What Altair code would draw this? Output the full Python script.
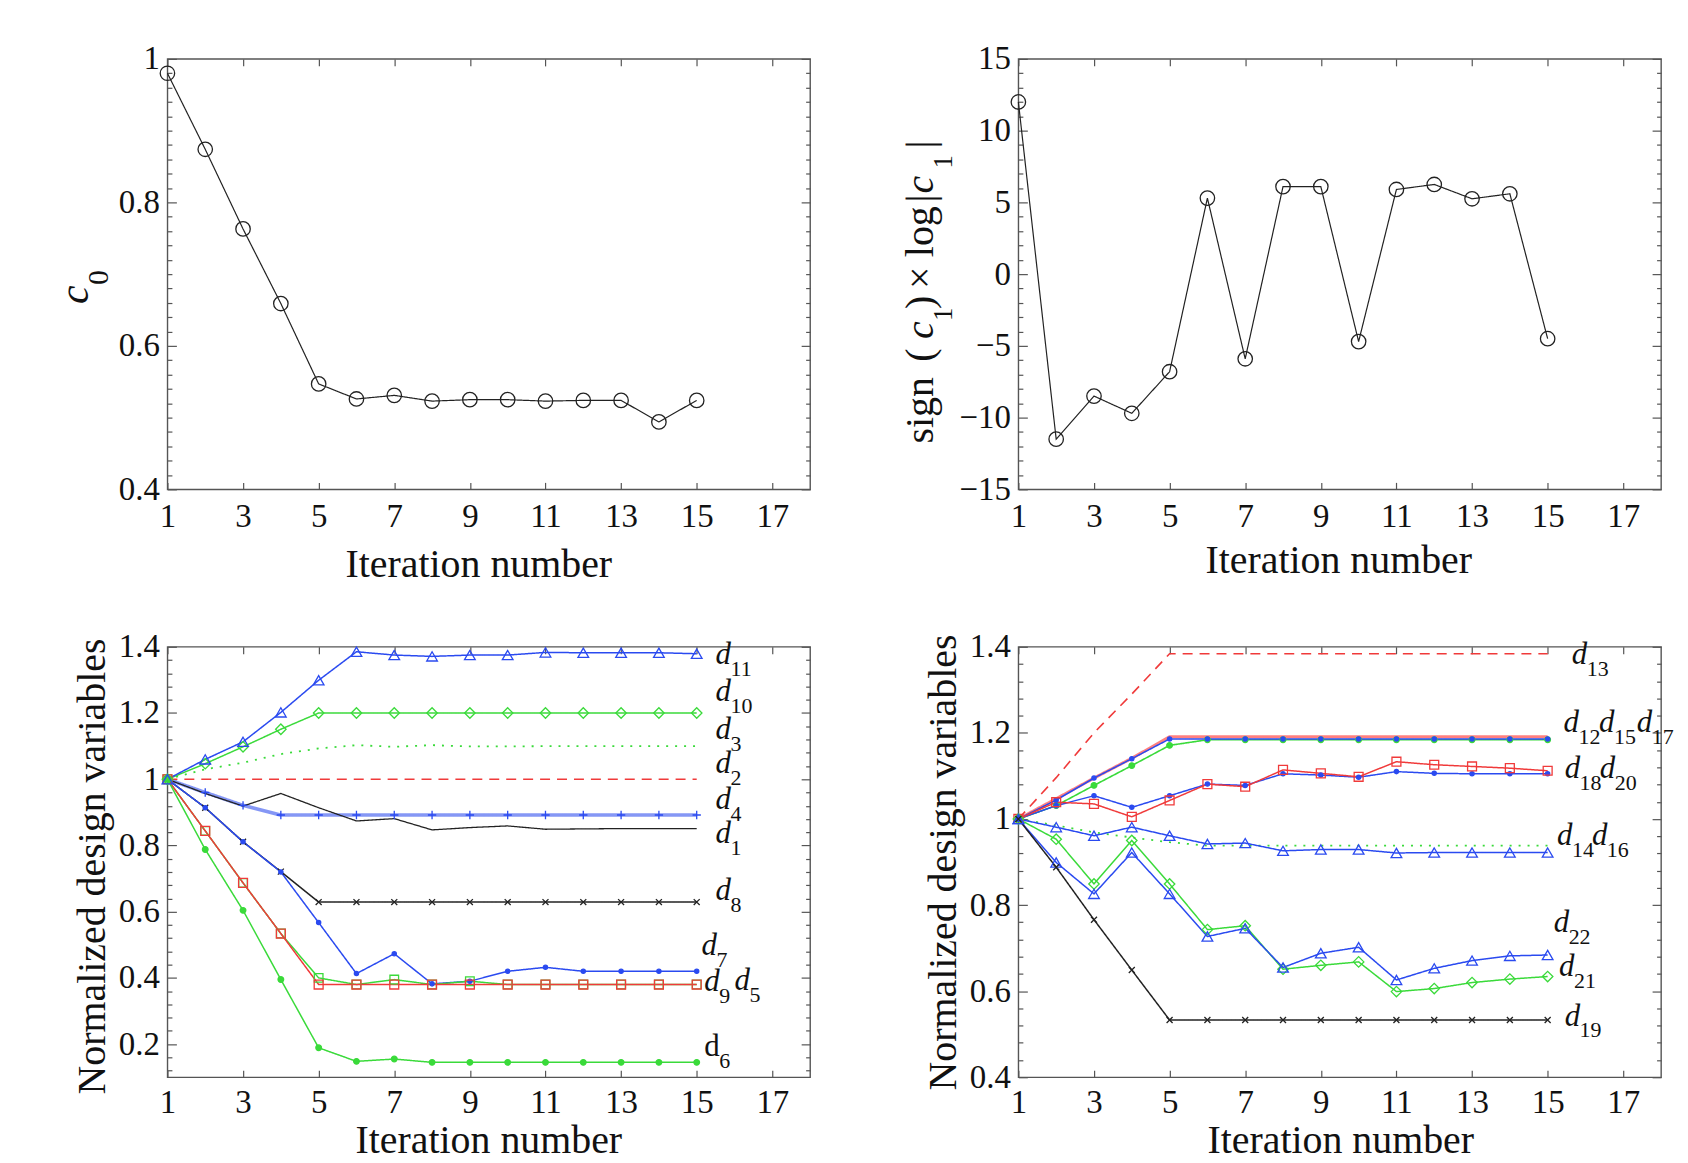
import altair as alt
import pandas as pd

SERIF = "Liberation Serif"
W, H = 645, 432

# ---------------- data ----------------
ITER = [1, 2, 3, 4, 5, 6, 7, 8, 9, 10, 11, 12, 13, 14, 15]
X_TICKS = [1, 3, 5, 7, 9, 11, 13, 15, 17]

# top-left: c0
C0 = [0.980, 0.874, 0.763, 0.659, 0.547, 0.526, 0.531, 0.523, 0.525, 0.525, 0.523, 0.524, 0.524, 0.494, 0.524]
# top-right: sign(c1) x log|c1|
C1 = [12.0, -11.5, -8.5, -9.7, -6.8, 5.3, -5.9, 6.1, 6.1, -4.7, 5.9, 6.25, 5.25, 5.6, -4.5]

# bottom-left: normalized design variables d1..d11
D1 = [1.0, 0.957, 0.919, 0.957, 0.914, 0.874, 0.881, 0.847, 0.854, 0.859, 0.849, 0.850, 0.851, 0.851, 0.851]
D2 = [1.0, 1.0, 1.0, 1.0, 1.0, 1.0, 1.0, 1.0, 1.0, 1.0, 1.0, 1.0, 1.0, 1.0, 1.0]
D3 = [1.0, 1.030, 1.050, 1.076, 1.093, 1.103, 1.098, 1.103, 1.099, 1.099, 1.100, 1.100, 1.100, 1.100, 1.100]
D4 = [1.0, 0.960, 0.921, 0.892, 0.892, 0.892, 0.892, 0.892, 0.892, 0.892, 0.892, 0.892, 0.892, 0.892, 0.892]
D5 = [1.0, 0.844, 0.687, 0.534, 0.400, 0.380, 0.395, 0.380, 0.390, 0.380, 0.380, 0.380, 0.380, 0.380, 0.380]
D6 = [1.0, 0.788, 0.604, 0.395, 0.189, 0.148, 0.155, 0.145, 0.145, 0.145, 0.145, 0.145, 0.145, 0.145, 0.145]
D7 = [1.0, 0.914, 0.811, 0.720, 0.567, 0.413, 0.473, 0.382, 0.390, 0.420, 0.432, 0.420, 0.420, 0.420, 0.420]
D8 = [1.0, 0.914, 0.811, 0.721, 0.629, 0.629, 0.629, 0.629, 0.629, 0.629, 0.629, 0.629, 0.629, 0.629, 0.629]
D9 = [1.0, 0.844, 0.687, 0.534, 0.380, 0.380, 0.380, 0.380, 0.380, 0.380, 0.380, 0.380, 0.380, 0.380, 0.380]
D10 = [1.0, 1.047, 1.098, 1.151, 1.200, 1.200, 1.200, 1.200, 1.200, 1.200, 1.200, 1.200, 1.200, 1.200, 1.200]
D11 = [1.0, 1.060, 1.113, 1.202, 1.299, 1.385, 1.375, 1.371, 1.375, 1.375, 1.383, 1.382, 1.382, 1.382, 1.379]

# bottom-right: d12..d22
D12 = [1.0, 1.047, 1.095, 1.141, 1.191, 1.191, 1.191, 1.191, 1.191, 1.191, 1.191, 1.191, 1.191, 1.191, 1.191]
D13 = [1.0, 1.096, 1.200, 1.290, 1.384, 1.384, 1.384, 1.384, 1.384, 1.384, 1.384, 1.384, 1.384, 1.384, 1.384]
D14 = [1.0, 0.981, 0.961, 0.981, 0.961, 0.942, 0.944, 0.926, 0.929, 0.929, 0.921, 0.922, 0.922, 0.922, 0.922]
D15 = [1.0, 1.044, 1.095, 1.140, 1.186, 1.186, 1.186, 1.186, 1.186, 1.186, 1.186, 1.186, 1.186, 1.186, 1.186]
D16 = [1.0, 0.985, 0.969, 0.957, 0.946, 0.938, 0.938, 0.938, 0.938, 0.938, 0.938, 0.938, 0.938, 0.938, 0.938]
D17 = [1.0, 1.031, 1.078, 1.124, 1.171, 1.184, 1.184, 1.184, 1.184, 1.184, 1.184, 1.184, 1.184, 1.184, 1.184]
D18 = [1.0, 1.039, 1.035, 1.005, 1.043, 1.081, 1.075, 1.114, 1.106, 1.098, 1.133, 1.126, 1.122, 1.118, 1.112]
D19 = [1.0, 0.888, 0.766, 0.649, 0.533, 0.533, 0.533, 0.533, 0.533, 0.533, 0.533, 0.533, 0.533, 0.533, 0.533]
D20 = [1.0, 1.031, 1.054, 1.027, 1.054, 1.081, 1.078, 1.105, 1.102, 1.097, 1.110, 1.106, 1.105, 1.105, 1.105]
D21 = [1.0, 0.953, 0.849, 0.950, 0.849, 0.743, 0.752, 0.651, 0.660, 0.668, 0.599, 0.606, 0.620, 0.628, 0.634]
D22 = [1.0, 0.899, 0.826, 0.922, 0.826, 0.727, 0.746, 0.655, 0.688, 0.702, 0.626, 0.653, 0.671, 0.682, 0.684]

# line labels (subscript, x, y of the "d")
BL_LAB_SUB = ["11", "10", "3", "2", "4", "1", "8", "7", "9", "5"]
BL_LAB_X = [15.5, 15.5, 15.5, 15.5, 15.5, 15.5, 15.5, 15.13, 15.2, 16.0]
BL_LAB_Y = [1.375, 1.262, 1.149, 1.045, 0.936, 0.834, 0.662, 0.496, 0.388, 0.39]
BL_UP_SUB = ["6"]
BL_UP_X = [15.2]
BL_UP_Y = [0.19]

BR_LAB_SUB = ["13", "12", "15", "17", "18", "20", "14", "16", "22", "21", "19"]
BR_LAB_X = [15.64, 15.42, 16.36, 17.36, 15.45, 16.38, 15.25, 16.17, 15.16, 15.3, 15.45]
BR_LAB_Y = [1.381, 1.223, 1.223, 1.223, 1.115, 1.115, 0.96, 0.96, 0.758, 0.657, 0.541]

# axis tick values
TL_MAJOR = [0.4, 0.6, 0.8, 1.0]
TL_MINOR = [round(0.4 + 0.02 * i, 2) for i in range(31)]
TR_MAJOR = [-15, -10, -5, 0, 5, 10, 15]
TR_MINOR = [v for v in range(-15, 16)]
BL_MAJOR = [0.2, 0.4, 0.6, 0.8, 1.0, 1.2, 1.4]
BL_MINOR = [round(0.12 + 0.04 * i, 2) for i in range(33)]
BR_MAJOR = [0.4, 0.6, 0.8, 1.0, 1.2, 1.4]
BR_MINOR = [round(0.4 + 0.04 * i, 2) for i in range(26)]

# ---------------- styles ----------------
BLACK = "#222222"
BLUE = "#2a4af0"
LBLUE = "#8597f5"
GREEN = "#3ada3a"
RED = "#f03a3a"
PINK = "#ff8080"
X_SHAPE = "M-1,-1L1,1M-1,1L1,-1"
PLUS_SHAPE = "M-1,0L1,0M0,-1L0,1"
SOLID = [1, 0]
DASH = [10, 7]
DOT = [2, 7]
NONE = "transparent"

# name: (line colour, dash, width, marker shape or None, marker size, marker stroke, marker fill)
STYLE = {
    "c0": (BLACK, SOLID, 1.2, "circle", 210, BLACK, NONE),
    "c1": (BLACK, SOLID, 1.2, "circle", 210, BLACK, NONE),
    "d1": (BLACK, SOLID, 1.3, None, 1, BLACK, NONE),
    "d2": (RED, DASH, 1.6, None, 1, RED, NONE),
    "d3": (GREEN, DOT, 1.8, None, 1, GREEN, NONE),
    "d4": (LBLUE, SOLID, 3.6, PLUS_SHAPE, 70, BLUE, NONE),
    "d5": (GREEN, SOLID, 1.5, "square", 75, GREEN, NONE),
    "d6": (GREEN, SOLID, 1.5, "circle", 32, GREEN, GREEN),
    "d7": (BLUE, SOLID, 1.5, "circle", 18, BLUE, BLUE),
    "d8": (BLACK, SOLID, 1.5, X_SHAPE, 36, BLACK, NONE),
    "d9": (RED, SOLID, 1.5, "square", 80, RED, NONE),
    "d10": (GREEN, SOLID, 1.5, "diamond", 110, GREEN, NONE),
    "d11": (BLUE, SOLID, 1.5, "triangle-up", 115, BLUE, NONE),
    "d12": (PINK, SOLID, 3.0, None, 1, RED, NONE),
    "d13": (RED, DASH, 1.6, None, 1, RED, NONE),
    "d14": (BLUE, SOLID, 1.5, "triangle-up", 115, BLUE, NONE),
    "d15": (BLUE, SOLID, 1.5, "circle", 18, BLUE, BLUE),
    "d16": (GREEN, DOT, 1.8, None, 1, GREEN, NONE),
    "d17": (GREEN, SOLID, 1.6, "circle", 32, GREEN, GREEN),
    "d18": (RED, SOLID, 1.5, "square", 80, RED, NONE),
    "d19": (BLACK, SOLID, 1.5, X_SHAPE, 36, BLACK, NONE),
    "d20": (BLUE, SOLID, 1.5, "circle", 18, BLUE, BLUE),
    "d21": (GREEN, SOLID, 1.5, "diamond", 110, GREEN, NONE),
    "d22": (BLUE, SOLID, 1.5, "triangle-up", 115, BLUE, NONE),
}
NAMES = list(STYLE.keys())
LINE_COLOR = alt.Scale(domain=NAMES, range=[STYLE[n][0] for n in NAMES])
LINE_DASH = alt.Scale(domain=NAMES, range=[STYLE[n][1] for n in NAMES])
LINE_WIDTH = alt.Scale(type="ordinal", domain=NAMES, range=[STYLE[n][2] for n in NAMES])
MK_SHAPE = alt.Scale(domain=NAMES, range=[STYLE[n][3] or "circle" for n in NAMES])
MK_SIZE = alt.Scale(type="ordinal", domain=NAMES, range=[STYLE[n][4] for n in NAMES])
MK_STROKE = alt.Scale(domain=NAMES, range=[STYLE[n][5] for n in NAMES])
MK_FILL = alt.Scale(domain=NAMES, range=[STYLE[n][6] for n in NAMES])


def long_df(pairs):
    rows = []
    for order, (name, arr) in enumerate(pairs):
        for it, v in zip(ITER, arr):
            rows.append({"series": name, "iter": it, "value": v, "ord": order,
                         "marked": STYLE[name][3] is not None})
    return pd.DataFrame(rows)


XSCALE = alt.Scale(domain=[1, 18], nice=False, zero=False)


def xe(field, axis):
    return alt.X(f"{field}:Q", scale=XSCALE, axis=axis)


def ye(field, dom, axis):
    return alt.Y(f"{field}:Q", scale=alt.Scale(domain=dom, nice=False, zero=False), axis=axis)


def title_piece(txt, px, py, size, italic=False):
    return alt.Chart(pd.DataFrame({"t": [txt]})).mark_text(
        font=SERIF, fontSize=size, fontStyle="italic" if italic else "normal",
        angle=270, align="left", baseline="alphabetic", color="#111111"
    ).encode(x=alt.value(px), y=alt.value(py), text="t:N")


def panel(pairs, ydom, ymaj, ymin, major_test, yfmt, xtitle_x, xtitle_y, xlab_pad=37,
          ytitle=None, ytitle_y=0, extra=()):
    df = long_df(pairs)
    base = alt.Chart(df)

    xa = alt.Axis(values=X_TICKS, format="d", title="Iteration number", ticks=True, tickSize=0,
                  labelPadding=xlab_pad, labelBaseline="alphabetic", labelFlush=False,
                  titleX=xtitle_x, titleY=xtitle_y, titleAlign="center", titleBaseline="alphabetic")
    if ytitle:
        ya = alt.Axis(values=ymaj, format=yfmt, title=ytitle, ticks=True, tickSize=0, labelPadding=8,
                      labelFlush=False, titleAngle=270, titleX=-63, titleY=ytitle_y,
                      titleAlign="center", titleBaseline="alphabetic")
    else:
        ya = alt.Axis(values=ymaj, format=yfmt, title=None, ticks=True, tickSize=0, labelPadding=8,
                      labelFlush=False)

    lines = base.mark_line(clip=False).encode(
        x=xe("iter", xa), y=ye("value", ydom, ya),
        color=alt.Color("series:N", scale=LINE_COLOR, legend=None),
        strokeDash=alt.StrokeDash("series:N", scale=LINE_DASH, legend=None),
        strokeWidth=alt.StrokeWidth("series:N", scale=LINE_WIDTH, legend=None),
        order=alt.Order("ord:Q"),
    )
    points = base.transform_filter("datum.marked").mark_point(filled=False, strokeWidth=1.3, opacity=1).encode(
        x=xe("iter", None), y=ye("value", ydom, None),
        shape=alt.Shape("series:N", scale=MK_SHAPE, legend=None),
        size=alt.Size("series:N", scale=MK_SIZE, legend=None),
        stroke=alt.Stroke("series:N", scale=MK_STROKE, legend=None),
        fill=alt.Fill("series:N", scale=MK_FILL, legend=None),
        order=alt.Order("ord:Q"),
    )
    tsize = {"condition": {"test": major_test, "value": 9}, "value": 4.5}
    ticks_a = base.mark_point(opacity=0, size=1).encode(
        x=xe("iter", alt.Axis(orient="top", offset=-H, values=X_TICKS, labels=False, title=None,
                              ticks=True, tickSize=7, domain=False)),
        y=ye("value", ydom, alt.Axis(orient="right", offset=-W, values=ymin, labels=False, title=None,
                                     ticks=True, tickSize=tsize, domain=False)),
    )
    ticks_b = base.mark_point(opacity=0, size=1).encode(
        x=xe("iter", alt.Axis(orient="bottom", offset=-H, values=X_TICKS, labels=False, title=None,
                              ticks=True, tickSize=7, domain=False)),
        y=ye("value", ydom, alt.Axis(orient="left", offset=-W, values=ymin, labels=False, title=None,
                                     ticks=True, tickSize=tsize, domain=False)),
    )
    layers = [ticks_a, ticks_b, lines, points] + list(extra)
    return alt.layer(*layers).resolve_axis(x="independent", y="independent").properties(width=W, height=H)


def label_layers(subs, xs, ys, ydom, italic=True):
    ldf = pd.DataFrame({"sub": subs, "lx": xs, "ly": ys})
    c = alt.Chart(ldf)
    d = c.mark_text(text="d", font=SERIF, fontSize=31, fontStyle="italic" if italic else "normal",
                    align="left", baseline="middle", color="#111111", clip=False).encode(
        x=xe("lx", None), y=ye("ly", ydom, None))
    s = c.mark_text(font=SERIF, fontSize=22, align="left", baseline="middle", dx=15, dy=14,
                    color="#111111", clip=False).encode(
        x=xe("lx", None), y=ye("ly", ydom, None), text="sub:N")
    return [d, s]


# ---------------- panels ----------------
TEST_02 = "abs(datum.value * 5 - round(datum.value * 5)) < 0.001"
TEST_5 = "abs(datum.value / 5 - round(datum.value / 5)) < 0.001"

tl_title = [title_piece("c", -80, 246, 42, True), title_piece("0", -60, 227, 30)]
tl = panel([("c0", C0)], [0.4, 1.0], TL_MAJOR, TL_MINOR, TEST_02, ".1~f", 312, 87, extra=tl_title)

tr_title = [
    title_piece("sign", -86, 386, 40),
    title_piece("(", -86, 304, 40),
    title_piece("c", -86, 281, 40, True),
    title_piece("1", -67, 263, 27),
    title_piece(")", -86, 251, 40),
    title_piece("\u00d7", -86, 231, 40),
    title_piece("log", -86, 199, 40),
    title_piece("|", -86, 144, 40),
    title_piece("c", -86, 135, 40, True),
    title_piece("1", -67, 110, 27),
    title_piece("|", -86, 90, 40),
]
tr = panel([("c1", C1)], [-15, 15], TR_MAJOR, TR_MINOR, TEST_5, "d", 321, 83, extra=tr_title)

bl_pairs = [("d4", D4), ("d3", D3), ("d2", D2), ("d1", D1), ("d8", D8), ("d7", D7), ("d5", D5),
            ("d9", D9), ("d6", D6), ("d10", D10), ("d11", D11)]
bl_extra = label_layers(BL_LAB_SUB, BL_LAB_X, BL_LAB_Y, [0.1, 1.4]) + \
    label_layers(BL_UP_SUB, BL_UP_X, BL_UP_Y, [0.1, 1.4], italic=False)
bl = panel(bl_pairs, [0.1, 1.4], BL_MAJOR, BL_MINOR, TEST_02, ".1~f", 322, 76, xlab_pad=35,
           ytitle="Normalized design variables", ytitle_y=220, extra=bl_extra)

br_pairs = [("d12", D12), ("d13", D13), ("d16", D16), ("d17", D17), ("d15", D15), ("d20", D20),
            ("d18", D18), ("d14", D14), ("d21", D21), ("d22", D22), ("d19", D19)]
br_extra = label_layers(BR_LAB_SUB, BR_LAB_X, BR_LAB_Y, [0.4, 1.4])
br = panel(br_pairs, [0.4, 1.4], BR_MAJOR, BR_MINOR, TEST_02, ".1~f", 323, 76, xlab_pad=35,
           ytitle="Normalized design variables", ytitle_y=216, extra=br_extra)

chart = alt.concat(tl, tr, bl, br, columns=2, spacing={"row": 158, "column": 209}, bounds="flush").properties(
    padding={"left": 45, "top": 32, "right": 5, "bottom": 5}
).configure_view(
    stroke="#555555", strokeWidth=1.4
).configure_axis(
    grid=False, domain=False, labelFont=SERIF, titleFont=SERIF, labelFontSize=33,
    titleFontSize=40, titleFontWeight="normal", labelColor="#111111", titleColor="#111111",
    tickColor="#555555", tickWidth=1.2
).configure_text(font=SERIF)

chart.save("out.html", embed_options={"renderer": "svg", "actions": False})
